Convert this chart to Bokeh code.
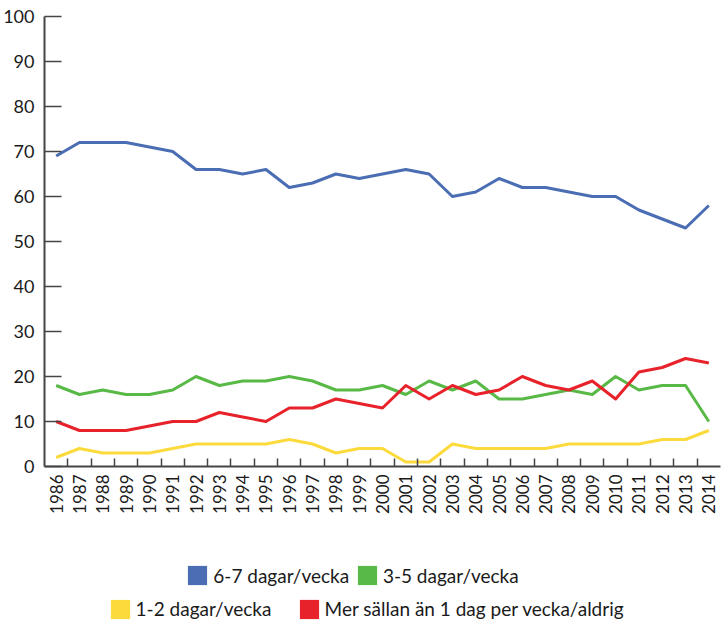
from bokeh.plotting import figure
from bokeh.layouts import column
from bokeh.models import Range1d, FixedTicker, Legend, LegendItem
from bokeh.embed import file_html
from bokeh.resources import INLINE

years = list(range(1986, 2015))
labels = [str(y) for y in years]
s67 = [69, 72, 72, 72, 71, 70, 66, 66, 65, 66, 62, 63, 65, 64, 65, 66, 65, 60, 61, 64, 62, 62, 61, 60, 60, 57, 55, 53, 58]
s35 = [18, 16, 17, 16, 16, 17, 20, 18, 19, 19, 20, 19, 17, 17, 18, 16, 19, 17, 19, 15, 15, 16, 17, 16, 20, 17, 18, 18, 10]
s12 = [2, 4, 3, 3, 3, 4, 5, 5, 5, 5, 6, 5, 3, 4, 4, 1, 1, 5, 4, 4, 4, 4, 5, 5, 5, 5, 6, 6, 8]
smer = [10, 8, 8, 8, 9, 10, 10, 12, 11, 10, 13, 13, 15, 14, 13, 18, 15, 18, 16, 17, 20, 18, 17, 19, 15, 21, 22, 24, 23]
names = ["6-7 dagar/vecka", "3-5 dagar/vecka", "1-2 dagar/vecka", "Mer sällan än 1 dag per vecka/aldrig"]
colors = ["#4A6DB4", "#58B947", "#FCDA3C", "#E8222A"]
yticks = list(range(0, 101, 10))

FONT = "Lato"
TXT = "#1a1a1a"
AX = "#454545"

p = figure(width=721, height=541, output_backend="svg", toolbar_location=None,
           x_range=Range1d(1985.5, 2014.5), y_range=Range1d(0, 100),
           min_border_left=44, min_border_right=1, min_border_top=16, min_border_bottom=75)
p.outline_line_color = None
p.xgrid.visible = False
p.ygrid.visible = False

for data, col in zip([s67, s35, s12, smer], colors):
    p.line(years, data, line_color=col, line_width=3, line_join="round")

# x axis
xa = p.xaxis[0]
xa.ticker = FixedTicker(ticks=years, minor_ticks=[y + 0.5 for y in years[:-1]])
xa.major_label_overrides = {y: l for y, l in zip(years, labels)}
xa.major_tick_in = 0
xa.major_tick_out = 0
xa.minor_tick_in = 8
xa.minor_tick_out = 0
xa.minor_tick_line_color = AX
xa.minor_tick_line_width = 1.5
xa.axis_line_color = AX
xa.axis_line_width = 2
xa.major_label_orientation = 3.14159265 / 2
xa.major_label_text_font = FONT
xa.major_label_text_font_size = "17px"
xa.major_label_text_color = TXT
xa.major_label_standoff = 8

# y axis
ya = p.yaxis[0]
ya.ticker = FixedTicker(ticks=yticks)
ya.major_tick_in = 17
ya.major_tick_out = 0
ya.major_tick_line_color = AX
ya.major_tick_line_width = 1.5
ya.minor_tick_line_color = None
ya.axis_line_color = AX
ya.axis_line_width = 2
ya.major_label_text_font = FONT
ya.major_label_text_font_size = "18px"
ya.major_label_text_color = TXT
ya.major_label_standoff = 10

# legend figure (frame is aligned with the chart frame by the column layout)
lf = figure(width=721, height=80, output_backend="svg", toolbar_location=None,
            x_range=Range1d(0, 1), y_range=Range1d(0, 1),
            min_border=0, min_border_left=0, min_border_right=0, min_border_top=0, min_border_bottom=0)
lf.xaxis.visible = False
lf.yaxis.visible = False
lf.grid.visible = False
lf.outline_line_color = None

swatches = []
for col in colors:
    # swatch glyphs placed outside the visible range; only used for legend
    r = lf.quad(left=[-3], right=[-2], top=[-2], bottom=[-3], fill_color=col, line_color=None)
    swatches.append(r)

legend_locs = [(141.3, 33.7), (310.9, 33.7), (63.6, 0.2), (252.6, 0.2)]
for i, loc in enumerate(legend_locs):
    lg = Legend(items=[LegendItem(label=names[i], renderers=[swatches[i]])],
                orientation="horizontal", location=loc,
                glyph_width=24, glyph_height=24, label_standoff=4, spacing=0,
                padding=0, margin=0, border_line_color=None, background_fill_alpha=0,
                label_text_font=FONT, label_text_font_size="19px", label_text_color=TXT,
                label_height=24)
    lf.add_layout(lg, "center")

open("out.html", "w").write(file_html(column(p, lf, spacing=0), INLINE))
